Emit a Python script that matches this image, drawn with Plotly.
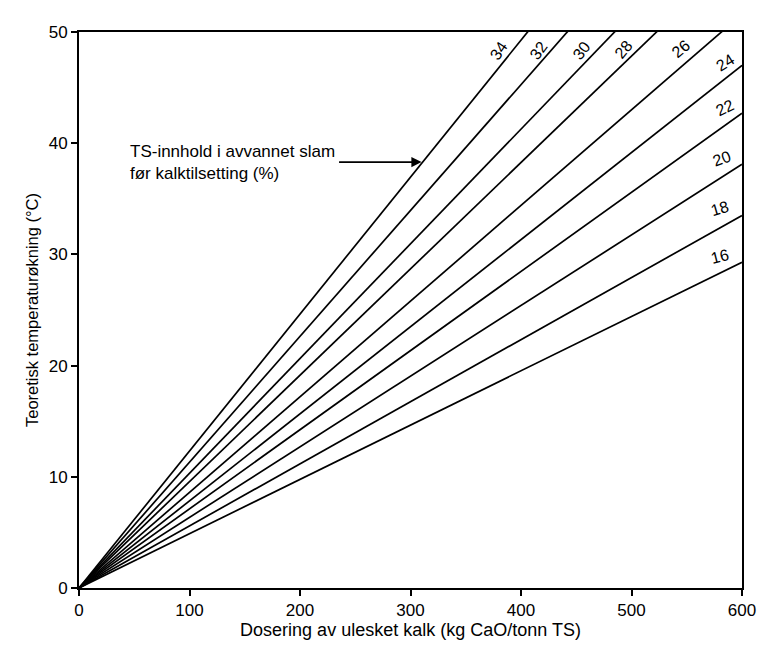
import plotly.graph_objects as go

# Dry-solids content of dewatered sludge before liming (%)
ts_content = [16, 18, 20, 22, 24, 26, 28, 30, 32, 34]
# Theoretical temperature rise (°C) at 600 kg CaO per tonne TS
temp_rise_at_600 = [29.3, 33.5, 38.1, 42.7, 47.0, 51.6, 57.4, 61.9, 67.9, 73.9]
dose_range = [0, 600]

# Curve labels: position (dose, temperature) and text angle
label_x = [580, 580, 582, 585, 585, 545, 493, 455, 416, 380]
label_y = [29.8, 34.1, 38.6, 43.2, 47.3, 48.5, 48.4, 48.3, 48.3, 48.3]
label_angle = [-14, -16, -20, -26, -32, -40, -50, -52, -54, -56]

x_ticks = [0, 100, 200, 300, 400, 500, 600]
y_ticks = [0, 10, 20, 30, 40, 50]

FONT = "Liberation Sans"

fig = go.Figure()

for ts, t600 in zip(ts_content, temp_rise_at_600):
    fig.add_trace(go.Scatter(
        x=dose_range,
        y=[0, t600],
        mode="lines",
        line=dict(color="black", width=1.7),
        name=f"{ts} %",
        showlegend=False,
        hoverinfo="skip",
    ))

for ts, lx, ly, ang in zip(ts_content, label_x, label_y, label_angle):
    fig.add_annotation(
        x=lx, y=ly, text=str(ts), showarrow=False,
        textangle=ang, font=dict(family=FONT, size=16, color="black"),
        xanchor="center", yanchor="middle",
    )

# Explanatory note with arrow pointing at the 34 % line
fig.add_annotation(
    x=44, y=38.3, xanchor="left", yanchor="middle", align="left",
    text="TS-innhold i avvannet slam<br>før kalktilsetting (%)",
    showarrow=False, font=dict(family=FONT, size=17, color="black"),
)
fig.add_annotation(
    x=310, y=38.3, ax=234, ay=38.3, xref="x", yref="y", axref="x", ayref="y",
    showarrow=True, arrowhead=2, arrowsize=1.2, arrowwidth=1.7,
    arrowcolor="black", text="",
)

fig.update_layout(
    width=768, height=656,
    margin=dict(l=79, r=16, t=32, b=68),
    paper_bgcolor="white", plot_bgcolor="white",
    font=dict(family=FONT, size=17, color="black"),
    xaxis=dict(
        range=[0, 600], tickvals=x_ticks, ticks="outside", ticklen=6,
        tickwidth=1.5, tickcolor="black", showgrid=False, zeroline=False,
        showline=True, linecolor="black", linewidth=2, mirror=True,
        tickfont=dict(family=FONT, size=17),
        title=dict(text="Dosering av ulesket kalk (kg CaO/tonn TS)",
                   font=dict(family=FONT, size=18), standoff=4),
    ),
    yaxis=dict(
        range=[0, 50], tickvals=y_ticks, ticks="outside", ticklen=6,
        tickwidth=1.5, tickcolor="black", showgrid=False, zeroline=False,
        showline=True, linecolor="black", linewidth=2, mirror=True,
        tickfont=dict(family=FONT, size=17),
        title=dict(text="Teoretisk temperaturøkning (°C)",
                   font=dict(family=FONT, size=16.5), standoff=6),
    ),
)

fig.write_html("out.html")
